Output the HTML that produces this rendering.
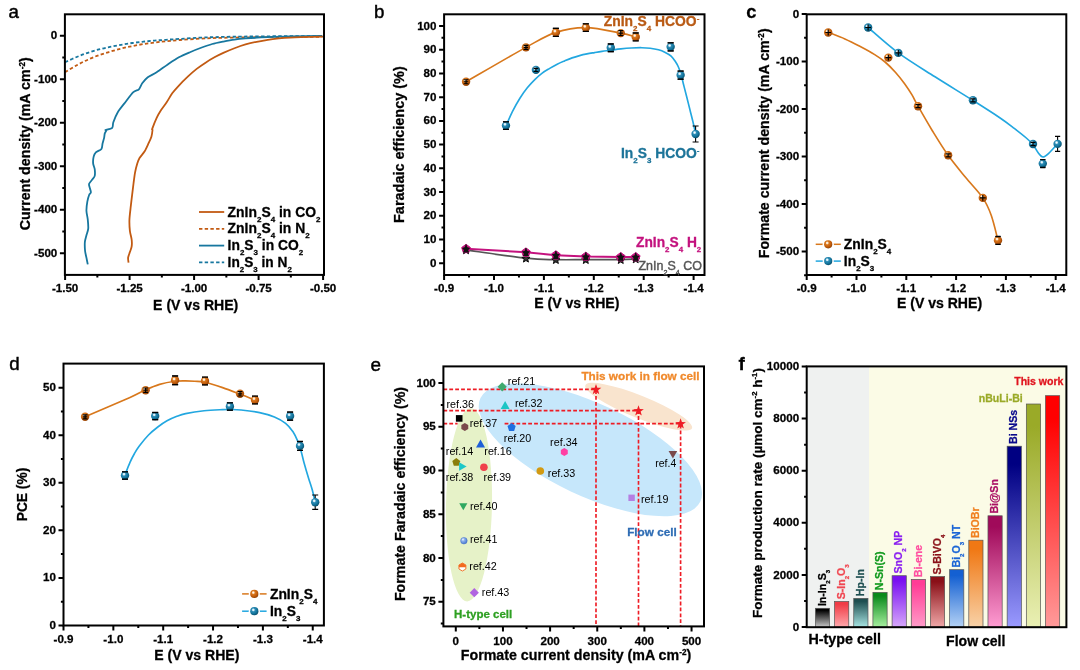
<!DOCTYPE html>
<html><head><meta charset="utf-8"><title>Figure</title>
<style>html,body{margin:0;padding:0;background:#fff}body{width:1080px;height:670px;overflow:hidden}</style>
</head><body>
<svg width="1080" height="670" viewBox="0 0 1080 670" font-family='"Liberation Sans", sans-serif' style="display:block">
<defs>
<radialGradient id="gO" cx="0.38" cy="0.34" r="0.72"><stop offset="0" stop-color="#FFFFFF"/><stop offset="0.14" stop-color="#FBE3C8"/><stop offset="0.3" stop-color="#D9781E"/><stop offset="0.65" stop-color="#C25C0C"/><stop offset="1" stop-color="#8A3E04"/></radialGradient>
<radialGradient id="gB" cx="0.38" cy="0.34" r="0.72"><stop offset="0" stop-color="#FFFFFF"/><stop offset="0.14" stop-color="#CFEAF6"/><stop offset="0.3" stop-color="#2E8DB6"/><stop offset="0.65" stop-color="#12739B"/><stop offset="1" stop-color="#074863"/></radialGradient>
<radialGradient id="gS" cx="0.36" cy="0.32" r="0.75"><stop offset="0" stop-color="#FFFFFF"/><stop offset="0.3" stop-color="#8FB4EE"/><stop offset="1" stop-color="#3F6FCB"/></radialGradient>
</defs>
<text id="t1" transform="translate(8.60 18.00)" font-size="18.70" font-weight="normal" text-anchor="start" fill="#000" stroke="#000" stroke-width="0.45">a</text>
<path d="M65.00 72.30C66.95 71.13 72.90 67.40 76.70 65.30C80.50 63.20 84.10 61.38 87.80 59.70C91.50 58.02 95.20 56.53 98.90 55.20C102.60 53.87 106.30 52.80 110.00 51.70C113.70 50.60 117.40 49.53 121.10 48.60C124.80 47.67 128.50 46.85 132.20 46.10C135.90 45.35 139.60 44.68 143.30 44.10C147.00 43.52 150.68 43.07 154.40 42.60C158.12 42.13 161.33 41.73 165.60 41.30C169.87 40.87 174.10 40.45 180.00 40.00C185.90 39.55 193.78 38.97 201.00 38.60C208.22 38.23 212.17 38.05 223.30 37.80C234.43 37.55 251.18 37.28 267.80 37.10C284.42 36.92 313.80 36.77 323.00 36.70" stroke="#C25A12" stroke-width="1.8" stroke-dasharray="3.4 2.3" fill="none"/>
<path d="M65.00 62.30C66.95 61.42 72.90 58.58 76.70 57.00C80.50 55.42 84.10 54.07 87.80 52.80C91.50 51.53 95.20 50.38 98.90 49.40C102.60 48.42 106.30 47.67 110.00 46.90C113.70 46.13 117.40 45.45 121.10 44.80C124.80 44.15 128.50 43.52 132.20 43.00C135.90 42.48 139.60 42.10 143.30 41.70C147.00 41.30 150.68 40.92 154.40 40.60C158.12 40.28 161.33 40.08 165.60 39.80C169.87 39.52 174.10 39.27 180.00 38.90C185.90 38.53 193.83 37.93 201.00 37.60C208.17 37.27 211.87 37.12 223.00 36.90C234.13 36.68 251.13 36.45 267.80 36.30C284.47 36.15 313.80 36.05 323.00 36.00" stroke="#17779F" stroke-width="1.8" stroke-dasharray="3.4 2.3" fill="none"/>
<path d="M87.78 264.41C87.60 263.51 86.79 259.48 86.43 257.69C86.08 255.90 85.30 253.06 85.09 250.97C84.88 248.88 84.69 244.10 84.87 242.01C85.04 239.92 85.99 237.08 86.43 235.29C86.88 233.49 88.05 230.66 88.23 228.57C88.41 226.48 88.02 222.00 87.78 219.61C87.54 217.22 86.49 213.03 86.43 210.65C86.37 208.26 86.97 203.78 87.33 201.68C87.69 199.59 88.64 196.22 89.12 194.96C89.60 193.71 90.85 193.32 90.91 192.28C90.97 191.23 89.81 188.26 89.57 187.12C89.33 185.99 88.73 184.81 89.12 183.76C89.51 182.72 91.74 180.33 92.48 179.28C93.23 178.24 94.42 177.27 94.72 175.92C95.02 174.58 94.93 170.85 94.72 169.20C94.51 167.56 93.30 165.24 93.15 163.60C93.00 161.96 93.24 158.38 93.60 156.88C93.96 155.39 94.80 153.45 95.84 152.40C96.89 151.36 100.55 150.24 101.44 149.04C102.34 147.85 102.20 144.93 102.56 143.44C102.92 141.95 103.83 139.18 104.13 137.84C104.43 136.50 104.47 134.41 104.80 133.36C105.13 132.31 106.49 130.45 106.59 130.00C106.70 129.55 104.81 130.30 105.56 130.00C106.31 129.70 111.19 128.81 112.22 127.78C113.26 126.74 112.59 124.30 113.33 122.22C114.07 120.15 116.30 114.74 117.78 112.22C119.26 109.70 122.37 106.00 124.44 103.33C126.52 100.67 131.41 94.09 133.33 92.22C135.26 90.36 137.70 90.52 138.89 89.33C140.07 88.15 141.04 84.93 142.22 83.33C143.41 81.73 145.85 78.81 147.78 77.33C149.70 75.85 154.00 73.94 156.67 72.22C159.33 70.50 164.81 66.43 167.78 64.44C170.74 62.46 175.93 58.96 178.89 57.33C181.85 55.70 187.04 53.50 190.00 52.22C192.96 50.95 198.15 48.87 201.11 47.78C204.07 46.68 209.26 44.83 212.22 44.00C215.19 43.17 220.37 42.15 223.33 41.56C226.30 40.96 231.48 39.97 234.44 39.56C237.41 39.14 241.11 38.77 245.56 38.44C250.00 38.12 261.85 37.38 267.78 37.11C273.70 36.84 282.74 36.59 290.00 36.44C297.26 36.30 317.93 36.06 322.22 36.00" stroke="#17779F" stroke-width="1.8" stroke-linejoin="round" fill="none"/>
<path d="M128.55 262.62C128.49 261.96 127.92 259.09 128.10 257.69C128.28 256.28 129.41 253.58 129.89 252.09C130.37 250.59 131.45 248.13 131.68 246.49C131.92 244.84 131.92 241.86 131.68 239.77C131.45 237.68 130.19 233.49 129.89 230.81C129.59 228.12 129.32 222.89 129.44 219.61C129.56 216.32 130.43 209.45 130.79 206.16C131.15 202.88 131.77 197.95 132.13 194.96C132.49 191.98 133.09 186.75 133.48 183.76C133.86 180.78 134.54 175.25 135.04 172.56C135.55 169.87 136.69 165.54 137.28 163.60C137.88 161.66 138.54 159.64 139.53 158.00C140.51 156.36 143.48 153.22 144.68 151.28C145.87 149.34 147.59 145.38 148.49 143.44C149.38 141.50 150.86 138.51 151.40 136.72C151.94 134.93 152.41 131.04 152.52 130.00C152.63 128.96 151.67 130.52 152.22 128.89C152.78 127.26 155.48 120.30 156.67 117.78C157.85 115.26 159.78 112.07 161.11 110.00C162.44 107.93 165.19 104.44 166.67 102.22C168.15 100.00 170.59 95.56 172.22 93.33C173.85 91.11 176.81 87.78 178.89 85.56C180.96 83.33 185.41 78.89 187.78 76.67C190.15 74.44 194.30 70.76 196.67 68.89C199.04 67.02 203.19 64.21 205.56 62.67C207.93 61.13 212.07 58.64 214.44 57.33C216.81 56.03 220.67 54.10 223.33 52.89C226.00 51.67 231.48 49.35 234.44 48.22C237.41 47.10 242.59 45.30 245.56 44.44C248.52 43.59 253.70 42.40 256.67 41.78C259.63 41.16 264.81 40.22 267.78 39.78C270.74 39.33 275.93 38.74 278.89 38.44C281.85 38.15 287.04 37.73 290.00 37.56C292.96 37.38 296.81 37.23 301.11 37.11C305.41 36.99 319.41 36.73 322.22 36.67" stroke="#C25A12" stroke-width="1.8" stroke-linejoin="round" fill="none"/>
<rect x="64.90" y="14.30" width="259.10" height="260.60" fill="none" stroke="#000" stroke-width="2.00"/>
<path d="M65.10 274.90v5.0M129.60 274.90v5.0M194.10 274.90v5.0M258.60 274.90v5.0M323.10 274.90v5.0M97.35 274.90v2.6M161.85 274.90v2.6M226.35 274.90v2.6M290.85 274.90v2.6" stroke="#000" stroke-width="2.00" fill="none"/>
<text id="t2" transform="translate(65.10 291.70)" font-size="11.60" font-weight="bold" text-anchor="middle" fill="#000" stroke="#000" stroke-width="0.28">-1.50</text>
<text id="t3" transform="translate(129.60 291.70)" font-size="11.60" font-weight="bold" text-anchor="middle" fill="#000" stroke="#000" stroke-width="0.28">-1.25</text>
<text id="t4" transform="translate(194.10 291.70)" font-size="11.60" font-weight="bold" text-anchor="middle" fill="#000" stroke="#000" stroke-width="0.28">-1.00</text>
<text id="t5" transform="translate(258.60 291.70)" font-size="11.60" font-weight="bold" text-anchor="middle" fill="#000" stroke="#000" stroke-width="0.28">-0.75</text>
<text id="t6" transform="translate(323.10 291.70)" font-size="11.60" font-weight="bold" text-anchor="middle" fill="#000" stroke="#000" stroke-width="0.28">-0.50</text>
<path d="M64.90 35.80h-5.0M64.90 79.30h-5.0M64.90 122.80h-5.0M64.90 166.30h-5.0M64.90 209.80h-5.0M64.90 253.30h-5.0M64.90 57.55h-2.6M64.90 101.05h-2.6M64.90 144.55h-2.6M64.90 188.05h-2.6M64.90 231.55h-2.6" stroke="#000" stroke-width="2.00" fill="none"/>
<text id="t7" transform="translate(57.30 39.40)" font-size="11.60" font-weight="bold" text-anchor="end" fill="#000" stroke="#000" stroke-width="0.28">0</text>
<text id="t8" transform="translate(57.30 82.90)" font-size="11.60" font-weight="bold" text-anchor="end" fill="#000" stroke="#000" stroke-width="0.28">-100</text>
<text id="t9" transform="translate(57.30 126.40)" font-size="11.60" font-weight="bold" text-anchor="end" fill="#000" stroke="#000" stroke-width="0.28">-200</text>
<text id="t10" transform="translate(57.30 169.90)" font-size="11.60" font-weight="bold" text-anchor="end" fill="#000" stroke="#000" stroke-width="0.28">-300</text>
<text id="t11" transform="translate(57.30 213.40)" font-size="11.60" font-weight="bold" text-anchor="end" fill="#000" stroke="#000" stroke-width="0.28">-400</text>
<text id="t12" transform="translate(57.30 256.90)" font-size="11.60" font-weight="bold" text-anchor="end" fill="#000" stroke="#000" stroke-width="0.28">-500</text>
<text id="t13" transform="translate(195.70 309.70)" font-size="14.07" font-weight="bold" text-anchor="middle" fill="#000" stroke="#000" stroke-width="0.28">E (V vs RHE)</text>
<text id="t14" transform="translate(30.20 143.80) rotate(-90)" font-size="14.25" font-weight="bold" text-anchor="middle" fill="#000" stroke="#000" stroke-width="0.28">Current density (mA cm<tspan font-size="8.19" dy="-5.27">-2</tspan><tspan dy="5.27">)</tspan></text>
<path d="M199 212.00H224.2" stroke="#C25A12" stroke-width="1.8"  fill="none"/>
<text id="t15" transform="translate(227.60 216.60)" font-size="13.92" font-weight="bold" text-anchor="start" fill="#000" stroke="#000" stroke-width="0.28">ZnIn<tspan font-size="8.00" dy="5.01">2</tspan><tspan dy="-5.01">S</tspan><tspan font-size="8.00" dy="5.01">4</tspan><tspan dy="-5.01"> in CO</tspan><tspan font-size="8.00" dy="5.01">2</tspan></text>
<path d="M199 228.80H224.2" stroke="#C25A12" stroke-width="1.8" stroke-dasharray="3.4 2.3" fill="none"/>
<text id="t16" transform="translate(227.60 233.40)" font-size="13.92" font-weight="bold" text-anchor="start" fill="#000" stroke="#000" stroke-width="0.28">ZnIn<tspan font-size="8.00" dy="5.01">2</tspan><tspan dy="-5.01">S</tspan><tspan font-size="8.00" dy="5.01">4</tspan><tspan dy="-5.01"> in N</tspan><tspan font-size="8.00" dy="5.01">2</tspan></text>
<path d="M199 245.60H224.2" stroke="#17779F" stroke-width="1.8"  fill="none"/>
<text id="t17" transform="translate(227.60 250.20)" font-size="13.84" font-weight="bold" text-anchor="start" fill="#000" stroke="#000" stroke-width="0.28">In<tspan font-size="7.96" dy="4.98">2</tspan><tspan dy="-4.98">S</tspan><tspan font-size="7.96" dy="4.98">3</tspan><tspan dy="-4.98"> in CO</tspan><tspan font-size="7.96" dy="4.98">2</tspan></text>
<path d="M199 262.40H224.2" stroke="#17779F" stroke-width="1.8" stroke-dasharray="3.4 2.3" fill="none"/>
<text id="t18" transform="translate(227.60 267.00)" font-size="13.71" font-weight="bold" text-anchor="start" fill="#000" stroke="#000" stroke-width="0.28">In<tspan font-size="7.88" dy="4.93">2</tspan><tspan dy="-4.93">S</tspan><tspan font-size="7.88" dy="4.93">3</tspan><tspan dy="-4.93"> in N</tspan><tspan font-size="7.88" dy="4.93">2</tspan></text>
<text id="t19" transform="translate(374.00 17.60)" font-size="18.70" font-weight="normal" text-anchor="start" fill="#000" stroke="#000" stroke-width="0.45">b</text>
<path d="M466.06 249.92C476.04 251.30 510.97 256.60 525.94 258.22C540.91 259.84 545.90 259.40 555.88 259.64C565.86 259.88 575.00 259.64 585.82 259.64C596.63 259.64 612.43 259.76 620.75 259.64C629.06 259.52 633.22 259.05 635.72 258.93" stroke="#555" stroke-width="1.7" fill="none"/>
<path d="M466.06 246.02L467.17 248.78L470.15 248.99L467.86 250.90L468.58 253.80L466.06 252.22L463.53 253.80L464.25 250.90L461.97 248.99L464.94 248.78Z" fill="#333" stroke="#000" stroke-width="0.9" stroke-linejoin="round"/>
<path d="M525.94 254.32L527.05 257.08L530.03 257.29L527.74 259.21L528.46 262.10L525.94 260.52L523.41 262.10L524.13 259.21L521.85 257.29L524.82 257.08Z" fill="#333" stroke="#000" stroke-width="0.9" stroke-linejoin="round"/>
<path d="M555.88 255.74L556.99 258.50L559.97 258.71L557.68 260.63L558.40 263.52L555.88 261.94L553.35 263.52L554.07 260.63L551.79 258.71L554.76 258.50Z" fill="#333" stroke="#000" stroke-width="0.9" stroke-linejoin="round"/>
<path d="M585.82 255.74L586.93 258.50L589.91 258.71L587.62 260.63L588.34 263.52L585.82 261.94L583.29 263.52L584.01 260.63L581.73 258.71L584.70 258.50Z" fill="#333" stroke="#000" stroke-width="0.9" stroke-linejoin="round"/>
<path d="M620.75 255.74L621.86 258.50L624.84 258.71L622.55 260.63L623.27 263.52L620.75 261.94L618.22 263.52L618.94 260.63L616.66 258.71L619.63 258.50Z" fill="#333" stroke="#000" stroke-width="0.9" stroke-linejoin="round"/>
<path d="M635.72 255.03L636.83 257.79L639.81 258.00L637.52 259.92L638.24 262.81L635.72 261.23L633.19 262.81L633.91 259.92L631.63 258.00L634.60 257.79Z" fill="#333" stroke="#000" stroke-width="0.9" stroke-linejoin="round"/>
<path d="M466.06 248.73L525.94 252.29L555.88 255.14L585.82 256.56L620.75 256.91L635.72 256.91" stroke="#C4127E" stroke-width="2.0" fill="none"/>
<path d="M466.06 244.33L470.43 247.51L468.76 252.65L463.35 252.65L461.68 247.51Z" fill="#C4127E" stroke="#C4127E" stroke-width="1.0" stroke-linejoin="round"/>
<path d="M466.06 244.93L467.41 247.37L470.15 247.90L468.24 249.94L468.58 252.71L466.06 251.53L463.53 252.71L463.87 249.94L461.97 247.90L464.70 247.37Z" fill="#111"/>
<path d="M466.06 244.53v7.6M463.46 251.93h5.2" stroke="#111" stroke-width="1.2" fill="none"/>
<path d="M525.94 247.89L530.31 251.07L528.64 256.21L523.23 256.21L521.56 251.07Z" fill="#C4127E" stroke="#C4127E" stroke-width="1.0" stroke-linejoin="round"/>
<path d="M525.94 248.49L527.29 250.93L530.03 251.46L528.12 253.50L528.46 256.27L525.94 255.09L523.41 256.27L523.75 253.50L521.85 251.46L524.58 250.93Z" fill="#111"/>
<path d="M525.94 248.09v7.6M523.34 255.49h5.2" stroke="#111" stroke-width="1.2" fill="none"/>
<path d="M555.88 250.74L560.25 253.91L558.58 259.06L553.17 259.06L551.50 253.91Z" fill="#C4127E" stroke="#C4127E" stroke-width="1.0" stroke-linejoin="round"/>
<path d="M555.88 251.34L557.23 253.77L559.97 254.31L558.06 256.35L558.40 259.11L555.88 257.94L553.35 259.11L553.69 256.35L551.79 254.31L554.52 253.77Z" fill="#111"/>
<path d="M555.88 250.94v7.6M553.28 258.34h5.2" stroke="#111" stroke-width="1.2" fill="none"/>
<path d="M585.82 252.16L590.19 255.34L588.52 260.48L583.11 260.48L581.44 255.34Z" fill="#C4127E" stroke="#C4127E" stroke-width="1.0" stroke-linejoin="round"/>
<path d="M585.82 252.76L587.17 255.20L589.91 255.73L588.00 257.77L588.34 260.54L585.82 259.36L583.29 260.54L583.63 257.77L581.73 255.73L584.46 255.20Z" fill="#111"/>
<path d="M585.82 252.36v7.6M583.22 259.76h5.2" stroke="#111" stroke-width="1.2" fill="none"/>
<path d="M620.75 252.51L625.12 255.69L623.45 260.84L618.04 260.84L616.37 255.69Z" fill="#C4127E" stroke="#C4127E" stroke-width="1.0" stroke-linejoin="round"/>
<path d="M620.75 253.11L622.10 255.55L624.84 256.09L622.93 258.12L623.27 260.89L620.75 259.71L618.22 260.89L618.56 258.12L616.66 256.09L619.39 255.55Z" fill="#111"/>
<path d="M620.75 252.71v7.6M618.15 260.11h5.2" stroke="#111" stroke-width="1.2" fill="none"/>
<path d="M635.72 252.51L640.09 255.69L638.42 260.84L633.01 260.84L631.34 255.69Z" fill="#C4127E" stroke="#C4127E" stroke-width="1.0" stroke-linejoin="round"/>
<path d="M635.72 253.11L637.07 255.55L639.81 256.09L637.90 258.12L638.24 260.89L635.72 259.71L633.19 260.89L633.53 258.12L631.63 256.09L634.36 255.55Z" fill="#111"/>
<path d="M635.72 252.71v7.6M633.12 260.11h5.2" stroke="#111" stroke-width="1.2" fill="none"/>
<path d="M506.20 125.40C507.23 123.10 510.12 116.13 512.40 111.60C514.68 107.07 517.42 102.17 519.90 98.20C522.38 94.23 524.82 90.90 527.30 87.80C529.78 84.70 532.32 82.05 534.80 79.60C537.28 77.15 539.72 74.97 542.20 73.10C544.68 71.23 547.20 69.88 549.70 68.40C552.20 66.92 554.72 65.45 557.20 64.20C559.68 62.95 562.12 61.95 564.60 60.90C567.08 59.85 569.60 58.78 572.10 57.90C574.60 57.02 577.12 56.27 579.60 55.60C582.08 54.93 584.52 54.40 587.00 53.90C589.48 53.40 592.00 53.02 594.50 52.60C597.00 52.18 599.35 51.78 602.00 51.40C604.65 51.02 607.25 50.72 610.40 50.30C613.55 49.88 617.42 49.28 620.90 48.90C624.38 48.52 627.82 48.20 631.30 48.00C634.78 47.80 638.65 47.67 641.80 47.70C644.95 47.73 647.42 47.85 650.20 48.20C652.98 48.55 656.07 49.13 658.50 49.80C660.93 50.47 662.70 51.15 664.80 52.20C666.90 53.25 669.37 54.58 671.10 56.10C672.83 57.62 673.98 59.48 675.20 61.30C676.42 63.12 677.43 64.83 678.40 67.00C679.37 69.17 680.13 71.33 681.00 74.30C681.87 77.27 682.68 81.18 683.60 84.80C684.52 88.42 685.43 91.80 686.50 96.00C687.57 100.20 688.92 105.67 690.00 110.00C691.08 114.33 692.07 118.07 693.00 122.00C693.93 125.93 695.17 131.67 695.60 133.60" stroke="#22A7E0" stroke-width="1.65" fill="none"/>
<path d="M466.06 81.74C476.04 76.01 510.97 55.57 525.94 47.35C540.91 39.13 545.90 35.69 555.88 32.40C565.86 29.12 575.00 27.54 585.82 27.66C596.63 27.78 612.43 31.57 620.75 33.12C629.06 34.66 633.22 36.28 635.72 36.91" stroke="#D8781C" stroke-width="1.65" fill="none"/>
<path d="M505.98 121.82V129.42M502.98 121.82h6.00M502.98 129.42h6.00" stroke="#000" stroke-width="1.1" fill="none"/>
<circle cx="505.98" cy="125.62" r="4.20" fill="url(#gB)"/>
<path d="M502.98 121.82h6.00M502.98 129.42h6.00" stroke="#000" stroke-width="1.3" fill="none"/>
<circle cx="535.92" cy="69.88" r="4.20" fill="url(#gB)"/>
<path d="M535.92 68.28V71.48M533.52 68.28h4.80M533.52 71.48h4.80" stroke="#000" stroke-width="1.2" fill="none"/>
<path d="M610.77 44.02V51.62M607.77 44.02h6.00M607.77 51.62h6.00" stroke="#000" stroke-width="1.1" fill="none"/>
<circle cx="610.77" cy="47.82" r="4.20" fill="url(#gB)"/>
<path d="M607.77 44.02h6.00M607.77 51.62h6.00" stroke="#000" stroke-width="1.3" fill="none"/>
<path d="M670.65 42.87V50.87M667.65 42.87h6.00M667.65 50.87h6.00" stroke="#000" stroke-width="1.1" fill="none"/>
<circle cx="670.65" cy="46.87" r="4.20" fill="url(#gB)"/>
<path d="M667.65 42.87h6.00M667.65 50.87h6.00" stroke="#000" stroke-width="1.3" fill="none"/>
<path d="M680.63 71.10V79.10M677.63 71.10h6.00M677.63 79.10h6.00" stroke="#000" stroke-width="1.1" fill="none"/>
<circle cx="680.63" cy="75.10" r="4.20" fill="url(#gB)"/>
<path d="M677.63 71.10h6.00M677.63 79.10h6.00" stroke="#000" stroke-width="1.3" fill="none"/>
<path d="M695.60 125.93V141.93M692.60 125.93h6.00M692.60 141.93h6.00" stroke="#000" stroke-width="1.1" fill="none"/>
<circle cx="695.60" cy="133.93" r="4.20" fill="url(#gB)"/>
<circle cx="466.06" cy="81.74" r="4.20" fill="url(#gO)"/>
<path d="M466.06 79.74V83.74M463.66 79.74h4.80M463.66 83.74h4.80M463.86 81.74H468.26" stroke="#000" stroke-width="1.2" fill="none"/>
<circle cx="525.94" cy="47.35" r="4.20" fill="url(#gO)"/>
<path d="M525.94 45.35V49.35M523.54 45.35h4.80M523.54 49.35h4.80M523.74 47.35H528.14" stroke="#000" stroke-width="1.2" fill="none"/>
<path d="M555.88 28.40V36.40M552.88 28.40h6.00M552.88 36.40h6.00" stroke="#000" stroke-width="1.1" fill="none"/>
<circle cx="555.88" cy="32.40" r="4.20" fill="url(#gO)"/>
<path d="M552.88 28.40h6.00M552.88 36.40h6.00" stroke="#000" stroke-width="1.3" fill="none"/>
<path d="M585.82 23.86V31.46M582.82 23.86h6.00M582.82 31.46h6.00" stroke="#000" stroke-width="1.1" fill="none"/>
<circle cx="585.82" cy="27.66" r="4.20" fill="url(#gO)"/>
<path d="M582.82 23.86h6.00M582.82 31.46h6.00" stroke="#000" stroke-width="1.3" fill="none"/>
<circle cx="620.75" cy="33.12" r="4.20" fill="url(#gO)"/>
<path d="M620.75 30.72V35.52M618.35 30.72h4.80M618.35 35.52h4.80M618.55 33.12H622.95" stroke="#000" stroke-width="1.2" fill="none"/>
<path d="M635.72 33.01V40.81M632.72 33.01h6.00M632.72 40.81h6.00" stroke="#000" stroke-width="1.1" fill="none"/>
<circle cx="635.72" cy="36.91" r="4.20" fill="url(#gO)"/>
<path d="M632.72 33.01h6.00M632.72 40.81h6.00" stroke="#000" stroke-width="1.3" fill="none"/>
<rect x="444.10" y="14.30" width="260.40" height="260.70" fill="none" stroke="#000" stroke-width="2.00"/>
<path d="M444.10 275.00v5.0M494.00 275.00v5.0M543.90 275.00v5.0M593.80 275.00v5.0M643.70 275.00v5.0M693.60 275.00v5.0M469.05 275.00v2.6M518.95 275.00v2.6M568.85 275.00v2.6M618.75 275.00v2.6M668.65 275.00v2.6" stroke="#000" stroke-width="2.00" fill="none"/>
<text id="t20" transform="translate(444.10 291.70)" font-size="11.60" font-weight="bold" text-anchor="middle" fill="#000" stroke="#000" stroke-width="0.28">-0.9</text>
<text id="t21" transform="translate(494.00 291.70)" font-size="11.60" font-weight="bold" text-anchor="middle" fill="#000" stroke="#000" stroke-width="0.28">-1.0</text>
<text id="t22" transform="translate(543.90 291.70)" font-size="11.60" font-weight="bold" text-anchor="middle" fill="#000" stroke="#000" stroke-width="0.28">-1.1</text>
<text id="t23" transform="translate(593.80 291.70)" font-size="11.60" font-weight="bold" text-anchor="middle" fill="#000" stroke="#000" stroke-width="0.28">-1.2</text>
<text id="t24" transform="translate(643.70 291.70)" font-size="11.60" font-weight="bold" text-anchor="middle" fill="#000" stroke="#000" stroke-width="0.28">-1.3</text>
<text id="t25" transform="translate(693.60 291.70)" font-size="11.60" font-weight="bold" text-anchor="middle" fill="#000" stroke="#000" stroke-width="0.28">-1.4</text>
<path d="M444.10 263.20h-5.0M444.10 239.48h-5.0M444.10 215.76h-5.0M444.10 192.04h-5.0M444.10 168.32h-5.0M444.10 144.60h-5.0M444.10 120.88h-5.0M444.10 97.16h-5.0M444.10 73.44h-5.0M444.10 49.72h-5.0M444.10 26.00h-5.0M444.10 251.34h-2.6M444.10 227.62h-2.6M444.10 203.90h-2.6M444.10 180.18h-2.6M444.10 156.46h-2.6M444.10 132.74h-2.6M444.10 109.02h-2.6M444.10 85.30h-2.6M444.10 61.58h-2.6M444.10 37.86h-2.6" stroke="#000" stroke-width="2.00" fill="none"/>
<text id="t26" transform="translate(436.50 266.80)" font-size="11.60" font-weight="bold" text-anchor="end" fill="#000" stroke="#000" stroke-width="0.28">0</text>
<text id="t27" transform="translate(436.50 243.08)" font-size="11.60" font-weight="bold" text-anchor="end" fill="#000" stroke="#000" stroke-width="0.28">10</text>
<text id="t28" transform="translate(436.50 219.36)" font-size="11.60" font-weight="bold" text-anchor="end" fill="#000" stroke="#000" stroke-width="0.28">20</text>
<text id="t29" transform="translate(436.50 195.64)" font-size="11.60" font-weight="bold" text-anchor="end" fill="#000" stroke="#000" stroke-width="0.28">30</text>
<text id="t30" transform="translate(436.50 171.92)" font-size="11.60" font-weight="bold" text-anchor="end" fill="#000" stroke="#000" stroke-width="0.28">40</text>
<text id="t31" transform="translate(436.50 148.20)" font-size="11.60" font-weight="bold" text-anchor="end" fill="#000" stroke="#000" stroke-width="0.28">50</text>
<text id="t32" transform="translate(436.50 124.48)" font-size="11.60" font-weight="bold" text-anchor="end" fill="#000" stroke="#000" stroke-width="0.28">60</text>
<text id="t33" transform="translate(436.50 100.76)" font-size="11.60" font-weight="bold" text-anchor="end" fill="#000" stroke="#000" stroke-width="0.28">70</text>
<text id="t34" transform="translate(436.50 77.04)" font-size="11.60" font-weight="bold" text-anchor="end" fill="#000" stroke="#000" stroke-width="0.28">80</text>
<text id="t35" transform="translate(436.50 53.32)" font-size="11.60" font-weight="bold" text-anchor="end" fill="#000" stroke="#000" stroke-width="0.28">90</text>
<text id="t36" transform="translate(436.50 29.60)" font-size="11.60" font-weight="bold" text-anchor="end" fill="#000" stroke="#000" stroke-width="0.28">100</text>
<text id="t37" transform="translate(576.80 308.00)" font-size="14.07" font-weight="bold" text-anchor="middle" fill="#000" stroke="#000" stroke-width="0.28">E (V vs RHE)</text>
<text id="t38" transform="translate(404.40 144.60) rotate(-90)" font-size="14.47" font-weight="bold" text-anchor="middle" fill="#000" stroke="#000" stroke-width="0.28">Faradaic efficiency (%)</text>
<text id="t39" transform="translate(603.70 26.00)" font-size="13.89" font-weight="bold" text-anchor="start" fill="#B95A14" stroke="#B95A14" stroke-width="0.28">ZnIn<tspan font-size="7.99" dy="5.00">2</tspan><tspan dy="-5.00">S</tspan><tspan font-size="7.99" dy="5.00">4</tspan><tspan dy="-5.00"> HCOO</tspan><tspan font-size="7.99" dy="-5.14">-</tspan></text>
<text id="t40" transform="translate(621.00 158.30)" font-size="13.85" font-weight="bold" text-anchor="start" fill="#1C7499" stroke="#1C7499" stroke-width="0.28">In<tspan font-size="7.96" dy="4.99">2</tspan><tspan dy="-4.99">S</tspan><tspan font-size="7.96" dy="4.99">3</tspan><tspan dy="-4.99"> HCOO</tspan><tspan font-size="7.96" dy="-5.12">-</tspan></text>
<text id="t41" transform="translate(636.00 247.20)" font-size="13.78" font-weight="bold" text-anchor="start" fill="#C3127E" stroke="#C3127E" stroke-width="0.28">ZnIn<tspan font-size="7.92" dy="4.96">2</tspan><tspan dy="-4.96">S</tspan><tspan font-size="7.92" dy="4.96">4</tspan><tspan dy="-4.96"> H</tspan><tspan font-size="7.92" dy="4.96">2</tspan></text>
<text id="t42" transform="translate(638.50 270.00)" font-size="12.48" font-weight="normal" text-anchor="start" fill="#555555" stroke="#555555" stroke-width="0.40">ZnIn<tspan font-size="7.18" dy="4.49">2</tspan><tspan dy="-4.49">S</tspan><tspan font-size="7.18" dy="4.49">4</tspan><tspan dy="-4.49"> CO</tspan></text>
<text id="t43" transform="translate(746.30 17.70)" font-size="18.30" font-weight="bold" text-anchor="start" fill="#000" stroke="#000" stroke-width="0.28">c</text>
<path d="M828.30 32.30C831.07 33.40 839.65 36.57 844.90 38.90C850.15 41.23 854.83 43.68 859.80 46.30C864.77 48.92 870.48 51.98 874.70 54.60C878.92 57.22 881.62 59.02 885.10 62.00C888.58 64.98 892.35 68.88 895.60 72.50C898.85 76.12 901.87 79.97 904.60 83.70C907.33 87.43 909.77 91.17 912.00 94.90C914.23 98.63 914.58 100.08 918.00 106.10C921.42 112.12 927.48 122.80 932.50 131.00C937.52 139.20 942.60 147.58 948.10 155.30C953.60 163.02 959.72 170.20 965.50 177.30C971.28 184.40 978.50 191.53 982.80 197.90C987.10 204.27 988.77 208.42 991.30 215.50C993.83 222.58 996.88 236.25 998.00 240.40" stroke="#D8781C" stroke-width="1.65" fill="none"/>
<path d="M868.10 27.50C873.13 31.73 887.15 44.68 898.30 52.90C909.45 61.12 922.60 68.90 935.00 76.80C947.40 84.70 961.97 93.52 972.70 100.30C983.43 107.08 992.47 112.82 999.40 117.50C1006.33 122.18 1009.82 124.98 1014.30 128.40C1018.78 131.82 1023.22 135.33 1026.30 138.00C1029.38 140.67 1030.82 141.93 1032.80 144.40C1034.78 146.87 1036.52 150.70 1038.20 152.80C1039.88 154.90 1041.15 156.92 1042.90 157.00C1044.65 157.08 1046.25 155.50 1048.70 153.30C1051.15 151.10 1056.12 145.38 1057.60 143.80" stroke="#22A7E0" stroke-width="1.65" fill="none"/>
<circle cx="828.20" cy="32.50" r="4.20" fill="url(#gO)"/>
<path d="M828.20 29.60V35.40M828.20 29.60h0.00M828.20 35.40h0.00M825.30 32.50H831.10" stroke="#000" stroke-width="1.2" fill="none"/>
<circle cx="888.30" cy="57.60" r="4.20" fill="url(#gO)"/>
<path d="M888.30 54.70V60.50M888.30 54.70h0.00M888.30 60.50h0.00M885.40 57.60H891.20" stroke="#000" stroke-width="1.2" fill="none"/>
<circle cx="918.00" cy="106.20" r="4.20" fill="url(#gO)"/>
<path d="M918.00 104.70V107.70M915.40 104.70h5.20M915.40 107.70h5.20" stroke="#000" stroke-width="1.2" fill="none"/>
<circle cx="948.10" cy="155.30" r="4.20" fill="url(#gO)"/>
<path d="M948.10 153.80V156.80M945.50 153.80h5.20M945.50 156.80h5.20" stroke="#000" stroke-width="1.2" fill="none"/>
<circle cx="982.80" cy="197.90" r="4.20" fill="url(#gO)"/>
<path d="M982.80 195.00V200.80M982.80 195.00h0.00M982.80 200.80h0.00M979.90 197.90H985.70" stroke="#000" stroke-width="1.2" fill="none"/>
<path d="M998.00 236.50V244.30M995.40 236.50h5.20M995.40 244.30h5.20" stroke="#000" stroke-width="1.1" fill="none"/>
<circle cx="998.00" cy="240.40" r="4.20" fill="url(#gO)"/>
<path d="M995.40 236.50h5.20M995.40 244.30h5.20" stroke="#000" stroke-width="1.3" fill="none"/>
<circle cx="868.10" cy="27.50" r="4.20" fill="url(#gB)"/>
<path d="M868.10 24.60V30.40M868.10 24.60h0.00M868.10 30.40h0.00M865.20 27.50H871.00" stroke="#000" stroke-width="1.2" fill="none"/>
<circle cx="898.30" cy="52.90" r="4.20" fill="url(#gB)"/>
<path d="M898.30 50.00V55.80M898.30 50.00h0.00M898.30 55.80h0.00M895.40 52.90H901.20" stroke="#000" stroke-width="1.2" fill="none"/>
<circle cx="972.90" cy="100.30" r="4.20" fill="url(#gB)"/>
<path d="M972.90 98.80V101.80M970.30 98.80h5.20M970.30 101.80h5.20" stroke="#000" stroke-width="1.2" fill="none"/>
<circle cx="1033.00" cy="144.00" r="4.20" fill="url(#gB)"/>
<path d="M1033.00 142.40V145.60M1030.40 142.40h5.20M1030.40 145.60h5.20" stroke="#000" stroke-width="1.2" fill="none"/>
<path d="M1042.80 159.70V167.50M1040.20 159.70h5.20M1040.20 167.50h5.20" stroke="#000" stroke-width="1.1" fill="none"/>
<circle cx="1042.80" cy="163.60" r="4.20" fill="url(#gB)"/>
<path d="M1040.20 159.70h5.20M1040.20 167.50h5.20" stroke="#000" stroke-width="1.3" fill="none"/>
<path d="M1057.60 136.40V151.40M1055.00 136.40h5.20M1055.00 151.40h5.20" stroke="#000" stroke-width="1.1" fill="none"/>
<circle cx="1057.60" cy="143.90" r="4.20" fill="url(#gB)"/>
<rect x="806.70" y="14.30" width="259.60" height="260.70" fill="none" stroke="#000" stroke-width="2.00"/>
<path d="M806.70 275.00v5.0M856.50 275.00v5.0M906.30 275.00v5.0M956.10 275.00v5.0M1005.90 275.00v5.0M1055.70 275.00v5.0M831.60 275.00v2.6M881.40 275.00v2.6M931.20 275.00v2.6M981.00 275.00v2.6M1030.80 275.00v2.6" stroke="#000" stroke-width="2.00" fill="none"/>
<text id="t44" transform="translate(806.70 291.70)" font-size="11.60" font-weight="bold" text-anchor="middle" fill="#000" stroke="#000" stroke-width="0.28">-0.9</text>
<text id="t45" transform="translate(856.50 291.70)" font-size="11.60" font-weight="bold" text-anchor="middle" fill="#000" stroke="#000" stroke-width="0.28">-1.0</text>
<text id="t46" transform="translate(906.30 291.70)" font-size="11.60" font-weight="bold" text-anchor="middle" fill="#000" stroke="#000" stroke-width="0.28">-1.1</text>
<text id="t47" transform="translate(956.10 291.70)" font-size="11.60" font-weight="bold" text-anchor="middle" fill="#000" stroke="#000" stroke-width="0.28">-1.2</text>
<text id="t48" transform="translate(1005.90 291.70)" font-size="11.60" font-weight="bold" text-anchor="middle" fill="#000" stroke="#000" stroke-width="0.28">-1.3</text>
<text id="t49" transform="translate(1055.70 291.70)" font-size="11.60" font-weight="bold" text-anchor="middle" fill="#000" stroke="#000" stroke-width="0.28">-1.4</text>
<path d="M806.70 14.10h-5.0M806.70 61.60h-5.0M806.70 109.10h-5.0M806.70 156.60h-5.0M806.70 204.10h-5.0M806.70 251.60h-5.0M806.70 37.85h-2.6M806.70 85.35h-2.6M806.70 132.85h-2.6M806.70 180.35h-2.6M806.70 227.85h-2.6M806.70 275.35h-2.6" stroke="#000" stroke-width="2.00" fill="none"/>
<text id="t50" transform="translate(799.10 17.70)" font-size="11.60" font-weight="bold" text-anchor="end" fill="#000" stroke="#000" stroke-width="0.28">0</text>
<text id="t51" transform="translate(799.10 65.20)" font-size="11.60" font-weight="bold" text-anchor="end" fill="#000" stroke="#000" stroke-width="0.28">-100</text>
<text id="t52" transform="translate(799.10 112.70)" font-size="11.60" font-weight="bold" text-anchor="end" fill="#000" stroke="#000" stroke-width="0.28">-200</text>
<text id="t53" transform="translate(799.10 160.20)" font-size="11.60" font-weight="bold" text-anchor="end" fill="#000" stroke="#000" stroke-width="0.28">-300</text>
<text id="t54" transform="translate(799.10 207.70)" font-size="11.60" font-weight="bold" text-anchor="end" fill="#000" stroke="#000" stroke-width="0.28">-400</text>
<text id="t55" transform="translate(799.10 255.20)" font-size="11.60" font-weight="bold" text-anchor="end" fill="#000" stroke="#000" stroke-width="0.28">-500</text>
<text id="t56" transform="translate(939.50 308.00)" font-size="14.07" font-weight="bold" text-anchor="middle" fill="#000" stroke="#000" stroke-width="0.28">E (V vs RHE)</text>
<text id="t57" transform="translate(768.80 143.30) rotate(-90)" font-size="14.20" font-weight="bold" text-anchor="middle" fill="#000" stroke="#000" stroke-width="0.28">Formate current density (mA cm<tspan font-size="8.16" dy="-5.25">-2</tspan><tspan dy="5.25">)</tspan></text>
<path d="M815.7 244.30H840.8" stroke="#D8781C" stroke-width="1.5" fill="none"/>
<circle cx="828.2" cy="244.30" r="5.6" fill="#fff"/>
<circle cx="828.20" cy="244.30" r="4.10" fill="url(#gO)"/>
<text id="t58" transform="translate(843.80 248.70)" font-size="13.90" font-weight="bold" text-anchor="start" fill="#000" stroke="#000" stroke-width="0.28">ZnIn<tspan font-size="7.99" dy="5.00">2</tspan><tspan dy="-5.00">S</tspan><tspan font-size="7.99" dy="5.00">4</tspan></text>
<path d="M815.7 261.10H840.8" stroke="#22A7E0" stroke-width="1.5" fill="none"/>
<circle cx="828.2" cy="261.10" r="5.6" fill="#fff"/>
<circle cx="828.20" cy="261.10" r="4.10" fill="url(#gB)"/>
<text id="t59" transform="translate(843.80 265.50)" font-size="13.89" font-weight="bold" text-anchor="start" fill="#000" stroke="#000" stroke-width="0.28">In<tspan font-size="7.98" dy="5.00">2</tspan><tspan dy="-5.00">S</tspan><tspan font-size="7.98" dy="5.00">3</tspan></text>
<text id="t60" transform="translate(9.20 370.10)" font-size="18.70" font-weight="normal" text-anchor="start" fill="#000" stroke="#000" stroke-width="0.45">d</text>
<path d="M124.80 475.30C125.67 473.13 128.38 465.93 130.00 462.30C131.62 458.67 132.95 456.22 134.50 453.50C136.05 450.78 136.97 449.08 139.30 446.00C141.63 442.92 145.42 438.17 148.50 435.00C151.58 431.83 154.72 429.37 157.80 427.00C160.88 424.63 163.92 422.53 167.00 420.80C170.08 419.07 173.20 417.80 176.30 416.60C179.40 415.40 180.97 414.58 185.60 413.60C190.23 412.62 197.93 411.37 204.10 410.70C210.27 410.03 218.28 409.80 222.60 409.60C226.92 409.40 226.92 409.43 230.00 409.50C233.08 409.57 236.17 409.48 241.10 410.00C246.03 410.52 254.05 411.45 259.60 412.60C265.15 413.75 270.07 415.12 274.40 416.90C278.73 418.68 282.50 420.83 285.60 423.30C288.70 425.77 291.00 428.77 293.00 431.70C295.00 434.63 296.22 437.52 297.60 440.90C298.98 444.28 300.22 448.32 301.30 452.00C302.38 455.68 302.90 458.67 304.10 463.00C305.30 467.33 307.13 473.50 308.50 478.00C309.87 482.50 311.18 485.97 312.30 490.00C313.42 494.03 314.72 500.17 315.20 502.20" stroke="#22A7E0" stroke-width="1.65" fill="none"/>
<path d="M85.10 416.80C92.58 413.57 120.05 401.83 130.00 397.40C139.95 392.97 139.87 392.37 144.80 390.20C149.73 388.03 154.57 385.88 159.60 384.40C164.63 382.92 170.67 381.88 175.00 381.30C179.33 380.72 182.30 380.90 185.60 380.90C188.90 380.90 191.63 381.08 194.80 381.30C197.97 381.52 199.97 381.15 204.60 382.20C209.23 383.25 216.73 385.62 222.60 387.60C228.47 389.58 234.40 392.00 239.80 394.10C245.20 396.20 252.47 399.18 255.00 400.20" stroke="#D8781C" stroke-width="1.65" fill="none"/>
<path d="M125.00 471.90V479.10M122.00 471.90h6.00M122.00 479.10h6.00" stroke="#000" stroke-width="1.1" fill="none"/>
<circle cx="125.00" cy="475.50" r="4.20" fill="url(#gB)"/>
<path d="M122.00 471.90h6.00M122.00 479.10h6.00" stroke="#000" stroke-width="1.3" fill="none"/>
<path d="M155.20 412.50V419.70M152.20 412.50h6.00M152.20 419.70h6.00" stroke="#000" stroke-width="1.1" fill="none"/>
<circle cx="155.20" cy="416.10" r="4.20" fill="url(#gB)"/>
<path d="M152.20 412.50h6.00M152.20 419.70h6.00" stroke="#000" stroke-width="1.3" fill="none"/>
<path d="M229.90 402.90V410.10M226.90 402.90h6.00M226.90 410.10h6.00" stroke="#000" stroke-width="1.1" fill="none"/>
<circle cx="229.90" cy="406.50" r="4.20" fill="url(#gB)"/>
<path d="M226.90 402.90h6.00M226.90 410.10h6.00" stroke="#000" stroke-width="1.3" fill="none"/>
<path d="M290.10 412.10V420.10M287.10 412.10h6.00M287.10 420.10h6.00" stroke="#000" stroke-width="1.1" fill="none"/>
<circle cx="290.10" cy="416.10" r="4.20" fill="url(#gB)"/>
<path d="M287.10 412.10h6.00M287.10 420.10h6.00" stroke="#000" stroke-width="1.3" fill="none"/>
<path d="M300.00 441.50V450.30M297.00 441.50h6.00M297.00 450.30h6.00" stroke="#000" stroke-width="1.1" fill="none"/>
<circle cx="300.00" cy="445.90" r="4.20" fill="url(#gB)"/>
<path d="M297.00 441.50h6.00M297.00 450.30h6.00" stroke="#000" stroke-width="1.3" fill="none"/>
<path d="M315.20 495.00V509.40M312.20 495.00h6.00M312.20 509.40h6.00" stroke="#000" stroke-width="1.1" fill="none"/>
<circle cx="315.20" cy="502.20" r="4.20" fill="url(#gB)"/>
<circle cx="85.10" cy="416.80" r="4.20" fill="url(#gO)"/>
<path d="M85.10 414.80V418.80M82.70 414.80h4.80M82.70 418.80h4.80M82.90 416.80H87.30" stroke="#000" stroke-width="1.2" fill="none"/>
<circle cx="145.60" cy="390.20" r="4.20" fill="url(#gO)"/>
<path d="M145.60 388.00V392.40M143.20 388.00h4.80M143.20 392.40h4.80M143.40 390.20H147.80" stroke="#000" stroke-width="1.2" fill="none"/>
<path d="M175.10 376.00V384.60M172.10 376.00h6.00M172.10 384.60h6.00" stroke="#000" stroke-width="1.1" fill="none"/>
<circle cx="175.10" cy="380.30" r="4.20" fill="url(#gO)"/>
<path d="M172.10 376.00h6.00M172.10 384.60h6.00" stroke="#000" stroke-width="1.3" fill="none"/>
<path d="M205.00 377.20V384.80M202.00 377.20h6.00M202.00 384.80h6.00" stroke="#000" stroke-width="1.1" fill="none"/>
<circle cx="205.00" cy="381.00" r="4.20" fill="url(#gO)"/>
<path d="M202.00 377.20h6.00M202.00 384.80h6.00" stroke="#000" stroke-width="1.3" fill="none"/>
<circle cx="240.00" cy="393.80" r="4.20" fill="url(#gO)"/>
<path d="M240.00 391.60V396.00M237.60 391.60h4.80M237.60 396.00h4.80M237.80 393.80H242.20" stroke="#000" stroke-width="1.2" fill="none"/>
<path d="M255.00 396.20V403.80M252.00 396.20h6.00M252.00 403.80h6.00" stroke="#000" stroke-width="1.1" fill="none"/>
<circle cx="255.00" cy="400.00" r="4.20" fill="url(#gO)"/>
<path d="M252.00 396.20h6.00M252.00 403.80h6.00" stroke="#000" stroke-width="1.3" fill="none"/>
<rect x="63.50" y="363.60" width="260.40" height="261.90" fill="none" stroke="#000" stroke-width="2.00"/>
<path d="M63.50 625.50v5.0M113.35 625.50v5.0M163.20 625.50v5.0M213.05 625.50v5.0M262.90 625.50v5.0M312.75 625.50v5.0M88.42 625.50v2.6M138.28 625.50v2.6M188.12 625.50v2.6M237.97 625.50v2.6M287.83 625.50v2.6" stroke="#000" stroke-width="2.00" fill="none"/>
<text id="t61" transform="translate(63.50 642.60)" font-size="11.60" font-weight="bold" text-anchor="middle" fill="#000" stroke="#000" stroke-width="0.28">-0.9</text>
<text id="t62" transform="translate(113.35 642.60)" font-size="11.60" font-weight="bold" text-anchor="middle" fill="#000" stroke="#000" stroke-width="0.28">-1.0</text>
<text id="t63" transform="translate(163.20 642.60)" font-size="11.60" font-weight="bold" text-anchor="middle" fill="#000" stroke="#000" stroke-width="0.28">-1.1</text>
<text id="t64" transform="translate(213.05 642.60)" font-size="11.60" font-weight="bold" text-anchor="middle" fill="#000" stroke="#000" stroke-width="0.28">-1.2</text>
<text id="t65" transform="translate(262.90 642.60)" font-size="11.60" font-weight="bold" text-anchor="middle" fill="#000" stroke="#000" stroke-width="0.28">-1.3</text>
<text id="t66" transform="translate(312.75 642.60)" font-size="11.60" font-weight="bold" text-anchor="middle" fill="#000" stroke="#000" stroke-width="0.28">-1.4</text>
<path d="M63.50 625.40h-5.0M63.50 577.88h-5.0M63.50 530.36h-5.0M63.50 482.84h-5.0M63.50 435.32h-5.0M63.50 387.80h-5.0M63.50 601.64h-2.6M63.50 554.12h-2.6M63.50 506.60h-2.6M63.50 459.08h-2.6M63.50 411.56h-2.6" stroke="#000" stroke-width="2.00" fill="none"/>
<text id="t67" transform="translate(55.90 629.00)" font-size="11.60" font-weight="bold" text-anchor="end" fill="#000" stroke="#000" stroke-width="0.28">0</text>
<text id="t68" transform="translate(55.90 581.48)" font-size="11.60" font-weight="bold" text-anchor="end" fill="#000" stroke="#000" stroke-width="0.28">10</text>
<text id="t69" transform="translate(55.90 533.96)" font-size="11.60" font-weight="bold" text-anchor="end" fill="#000" stroke="#000" stroke-width="0.28">20</text>
<text id="t70" transform="translate(55.90 486.44)" font-size="11.60" font-weight="bold" text-anchor="end" fill="#000" stroke="#000" stroke-width="0.28">30</text>
<text id="t71" transform="translate(55.90 438.92)" font-size="11.60" font-weight="bold" text-anchor="end" fill="#000" stroke="#000" stroke-width="0.28">40</text>
<text id="t72" transform="translate(55.90 391.40)" font-size="11.60" font-weight="bold" text-anchor="end" fill="#000" stroke="#000" stroke-width="0.28">50</text>
<text id="t73" transform="translate(196.80 659.50)" font-size="14.07" font-weight="bold" text-anchor="middle" fill="#000" stroke="#000" stroke-width="0.28">E (V vs RHE)</text>
<text id="t74" transform="translate(27.40 494.50) rotate(-90)" font-size="13.76" font-weight="bold" text-anchor="middle" fill="#000" stroke="#000" stroke-width="0.28">PCE (%)</text>
<path d="M242.1 593.90H266.6" stroke="#D8781C" stroke-width="1.5" fill="none"/>
<circle cx="254.3" cy="593.90" r="5.6" fill="#fff"/>
<circle cx="254.30" cy="593.90" r="4.10" fill="url(#gO)"/>
<text id="t75" transform="translate(269.90 598.90)" font-size="13.90" font-weight="bold" text-anchor="start" fill="#000" stroke="#000" stroke-width="0.28">ZnIn<tspan font-size="7.99" dy="5.00">2</tspan><tspan dy="-5.00">S</tspan><tspan font-size="7.99" dy="5.00">4</tspan></text>
<path d="M242.1 611.20H266.6" stroke="#22A7E0" stroke-width="1.5" fill="none"/>
<circle cx="254.3" cy="611.20" r="5.6" fill="#fff"/>
<circle cx="254.30" cy="611.20" r="4.10" fill="url(#gB)"/>
<text id="t76" transform="translate(269.90 616.20)" font-size="13.89" font-weight="bold" text-anchor="start" fill="#000" stroke="#000" stroke-width="0.28">In<tspan font-size="7.98" dy="5.00">2</tspan><tspan dy="-5.00">S</tspan><tspan font-size="7.98" dy="5.00">3</tspan></text>
<text id="t77" transform="translate(370.60 370.80)" font-size="18.90" font-weight="normal" text-anchor="start" fill="#000" stroke="#000" stroke-width="0.45">e</text>
<clipPath id="ce"><rect x="443.40" y="366.40" width="260.60" height="260.00"/></clipPath>
<g clip-path="url(#ce)">
<ellipse cx="469.0" cy="504.8" rx="23" ry="96.6" fill="#E6F2C8" transform="rotate(1.1 469.0 504.8)"/>
<ellipse cx="590.4" cy="449.8" rx="121.5" ry="46.0" fill="#C6E7FB" transform="rotate(25.2 590.4 449.8)"/>
<ellipse cx="638.7" cy="406.7" rx="57.5" ry="11.2" fill="#F9E4CE" transform="rotate(22 638.7 406.7)"/>
</g>
<path d="M443.40 389.30H596.00V626.40M443.40 410.60H638.50V626.40M443.40 423.60H457.6M504.6 423.60H680.60V626.40" stroke="#EE1C25" stroke-width="1.65" stroke-dasharray="3.8 2.1" fill="none"/>
<path d="M596.00 384.00L597.32 387.78L601.33 387.87L598.14 390.30L599.29 394.13L596.00 391.85L592.71 394.13L593.86 390.30L590.67 387.87L594.68 387.78Z" fill="#EE1C25"/>
<path d="M638.50 405.30L639.82 409.08L643.83 409.17L640.64 411.60L641.79 415.43L638.50 413.15L635.21 415.43L636.36 411.60L633.17 409.17L637.18 409.08Z" fill="#EE1C25"/>
<path d="M680.60 418.30L681.92 422.08L685.93 422.17L682.74 424.60L683.89 428.43L680.60 426.15L677.31 428.43L678.46 424.60L675.27 422.17L679.28 422.08Z" fill="#EE1C25"/>
<path d="M502.20 382.20L506.80 386.80L502.20 391.40L497.60 386.80Z" fill="#3FAA6E"/>
<text id="t78" transform="translate(507.80 384.80)" font-size="10.76" font-weight="normal" text-anchor="start" fill="#000">ref.21</text>
<path d="M505.10 401.10L509.60 408.90L500.60 408.90Z" fill="#1CC5C5"/>
<text id="t79" transform="translate(515.00 407.20)" font-size="10.76" font-weight="normal" text-anchor="start" fill="#000">ref.32</text>
<rect x="455.9" y="415.1" width="6.6" height="6.6" fill="#000"/>
<text id="t80" transform="translate(446.50 407.70)" font-size="10.76" font-weight="normal" text-anchor="start" fill="#000">ref.36</text>
<path d="M464.80 431.10L461.34 429.10L461.34 425.10L464.80 423.10L468.26 425.10L468.26 429.10Z" fill="#7A4A4C"/>
<text id="t81" transform="translate(469.70 427.40)" font-size="10.76" font-weight="normal" text-anchor="start" fill="#000">ref.37</text>
<path d="M511.60 423.10L515.69 426.07L514.13 430.88L509.07 430.88L507.51 426.07Z" fill="#1F6FE0"/>
<text id="t82" transform="translate(503.80 442.00)" font-size="10.76" font-weight="normal" text-anchor="start" fill="#000">ref.20</text>
<path d="M480.50 439.60L485.00 447.40L476.00 447.40Z" fill="#1E5FD8"/>
<text id="t83" transform="translate(484.30 455.30)" font-size="10.76" font-weight="normal" text-anchor="start" fill="#000">ref.16</text>
<path d="M456.30 458.10L460.29 461.00L458.77 465.70L453.83 465.70L452.31 461.00Z" fill="#8A7F0A"/>
<text id="t84" transform="translate(445.80 455.30)" font-size="10.76" font-weight="normal" text-anchor="start" fill="#000">ref.14</text>
<path d="M466.60 466.50L459.10 470.83L459.10 462.17Z" fill="#1CC8C8"/>
<text id="t85" transform="translate(445.80 480.80)" font-size="10.76" font-weight="normal" text-anchor="start" fill="#000">ref.38</text>
<circle cx="483.9" cy="467.2" r="3.8" fill="#F0414B"/>
<text id="t86" transform="translate(483.60 480.80)" font-size="10.76" font-weight="normal" text-anchor="start" fill="#000">ref.39</text>
<circle cx="540.3" cy="471.0" r="3.8" fill="#D39A12"/>
<text id="t87" transform="translate(547.80 476.90)" font-size="10.76" font-weight="normal" text-anchor="start" fill="#000">ref.33</text>
<path d="M564.30 455.90L560.84 453.90L560.84 449.90L564.30 447.90L567.76 449.90L567.76 453.90Z" fill="#FF3FA3"/>
<text id="t88" transform="translate(550.10 445.90)" font-size="10.76" font-weight="normal" text-anchor="start" fill="#000">ref.34</text>
<path d="M672.90 458.40L668.57 450.90L677.23 450.90Z" fill="#7A4A4C"/>
<text id="t89" transform="translate(655.30 467.40)" font-size="10.45" font-weight="normal" text-anchor="start" fill="#000">ref.4</text>
<rect x="628.4" y="494.6" width="6.4" height="6.4" fill="#B57FE2"/>
<text id="t90" transform="translate(640.90 502.80)" font-size="10.76" font-weight="normal" text-anchor="start" fill="#000">ref.19</text>
<path d="M463.30 510.30L459.23 503.25L467.37 503.25Z" fill="#2FA861"/>
<text id="t91" transform="translate(469.90 509.70)" font-size="10.76" font-weight="normal" text-anchor="start" fill="#000">ref.40</text>
<circle cx="463.9" cy="540.7" r="3.3" fill="url(#gS)" stroke="#4a74c8" stroke-width="0.5"/>
<text id="t92" transform="translate(469.90 543.40)" font-size="10.76" font-weight="normal" text-anchor="start" fill="#000">ref.41</text>
<path d="M462.40 571.00L458.94 569.00L458.94 565.00L462.40 563.00L465.86 565.00L465.86 569.00Z" fill="#fff" stroke="#F26A1E" stroke-width="0.9" stroke-linejoin="round"/>
<path d="M458.94 567.3L458.94 565.00L462.4 563.00L465.86 565.00L465.86 567.3Z" fill="#F26A1E"/>
<text id="t93" transform="translate(469.30 570.00)" font-size="10.76" font-weight="normal" text-anchor="start" fill="#000">ref.42</text>
<path d="M474.30 588.10L478.90 592.70L474.30 597.30L469.70 592.70Z" fill="#B064E0"/>
<text id="t94" transform="translate(481.80 596.00)" font-size="10.76" font-weight="normal" text-anchor="start" fill="#000">ref.43</text>
<text id="t95" transform="translate(581.40 380.30)" font-size="11.76" font-weight="bold" text-anchor="start" fill="#F0892B" stroke="#F0892B" stroke-width="0.28">This work in flow cell</text>
<text id="t96" transform="translate(627.20 536.30)" font-size="11.73" font-weight="bold" text-anchor="start" fill="#2E6CB4" stroke="#2E6CB4" stroke-width="0.28">Flow cell</text>
<text id="t97" transform="translate(454.00 618.00)" font-size="11.52" font-weight="bold" text-anchor="start" fill="#2EA022" stroke="#2EA022" stroke-width="0.28">H-type cell</text>
<rect x="443.40" y="366.40" width="260.60" height="260.00" fill="none" stroke="#000" stroke-width="2.00"/>
<path d="M455.80 626.40v5.0M502.95 626.40v5.0M550.10 626.40v5.0M597.25 626.40v5.0M644.40 626.40v5.0M691.55 626.40v5.0M479.38 626.40v2.6M526.52 626.40v2.6M573.67 626.40v2.6M620.83 626.40v2.6M667.98 626.40v2.6" stroke="#000" stroke-width="2.00" fill="none"/>
<text id="t98" transform="translate(455.80 644.60)" font-size="11.60" font-weight="bold" text-anchor="middle" fill="#000" stroke="#000" stroke-width="0.28">0</text>
<text id="t99" transform="translate(502.95 644.60)" font-size="11.60" font-weight="bold" text-anchor="middle" fill="#000" stroke="#000" stroke-width="0.28">100</text>
<text id="t100" transform="translate(550.10 644.60)" font-size="11.60" font-weight="bold" text-anchor="middle" fill="#000" stroke="#000" stroke-width="0.28">200</text>
<text id="t101" transform="translate(597.25 644.60)" font-size="11.60" font-weight="bold" text-anchor="middle" fill="#000" stroke="#000" stroke-width="0.28">300</text>
<text id="t102" transform="translate(644.40 644.60)" font-size="11.60" font-weight="bold" text-anchor="middle" fill="#000" stroke="#000" stroke-width="0.28">400</text>
<text id="t103" transform="translate(691.55 644.60)" font-size="11.60" font-weight="bold" text-anchor="middle" fill="#000" stroke="#000" stroke-width="0.28">500</text>
<path d="M443.40 601.75h-5.0M443.40 558.00h-5.0M443.40 514.25h-5.0M443.40 470.50h-5.0M443.40 426.75h-5.0M443.40 383.00h-5.0M443.40 623.62h-2.6M443.40 579.88h-2.6M443.40 536.12h-2.6M443.40 492.38h-2.6M443.40 448.62h-2.6M443.40 404.88h-2.6" stroke="#000" stroke-width="2.00" fill="none"/>
<text id="t104" transform="translate(435.80 605.35)" font-size="11.60" font-weight="bold" text-anchor="end" fill="#000" stroke="#000" stroke-width="0.28">75</text>
<text id="t105" transform="translate(435.80 561.60)" font-size="11.60" font-weight="bold" text-anchor="end" fill="#000" stroke="#000" stroke-width="0.28">80</text>
<text id="t106" transform="translate(435.80 517.85)" font-size="11.60" font-weight="bold" text-anchor="end" fill="#000" stroke="#000" stroke-width="0.28">85</text>
<text id="t107" transform="translate(435.80 474.10)" font-size="11.60" font-weight="bold" text-anchor="end" fill="#000" stroke="#000" stroke-width="0.28">90</text>
<text id="t108" transform="translate(435.80 430.35)" font-size="11.60" font-weight="bold" text-anchor="end" fill="#000" stroke="#000" stroke-width="0.28">95</text>
<text id="t109" transform="translate(435.80 386.60)" font-size="11.60" font-weight="bold" text-anchor="end" fill="#000" stroke="#000" stroke-width="0.28">100</text>
<text id="t110" transform="translate(576.00 660.40)" font-size="14.22" font-weight="bold" text-anchor="middle" fill="#000" stroke="#000" stroke-width="0.28">Formate current density (mA cm<tspan font-size="8.18" dy="-5.26">-2</tspan><tspan dy="5.26">)</tspan></text>
<text id="t111" transform="translate(404.80 494.00) rotate(-90)" font-size="14.23" font-weight="bold" text-anchor="middle" fill="#000" stroke="#000" stroke-width="0.28">Formate Faradaic efficiency (%)</text>
<text id="t112" transform="translate(738.40 370.10)" font-size="18.90" font-weight="bold" text-anchor="start" fill="#000" stroke="#000" stroke-width="0.28">f</text>
<rect x="806.70" y="366.40" width="62.30" height="260.80" fill="#EFF1F0"/>
<rect x="869.0" y="366.40" width="197.40" height="260.80" fill="#FBFBE6"/>
<linearGradient id="b0" x1="0" y1="0" x2="0" y2="1"><stop offset="0" stop-color="#000000"/><stop offset="0.1" stop-color="#000000"/><stop offset="1" stop-color="#C8C8C8"/></linearGradient>
<rect x="815.40" y="608.30" width="14.2" height="18.90" fill="url(#b0)" stroke="#555" stroke-width="0.7"/>
<text id="t113" transform="translate(825.70 606.10) rotate(-90)" font-size="10.60" font-weight="bold" text-anchor="start" fill="#000000" stroke="#000000" stroke-width="0.28">In-In<tspan font-size="6.09" dy="3.82">2</tspan><tspan dy="-3.82">S</tspan><tspan font-size="6.09" dy="3.82">3</tspan></text>
<linearGradient id="b1" x1="0" y1="0" x2="0" y2="1"><stop offset="0" stop-color="#F03C46"/><stop offset="0.1" stop-color="#F03C46"/><stop offset="1" stop-color="#FFA9AD"/></linearGradient>
<rect x="834.57" y="601.50" width="14.2" height="25.70" fill="url(#b1)" stroke="#555" stroke-width="0.7"/>
<text id="t114" transform="translate(844.87 599.30) rotate(-90)" font-size="10.60" font-weight="bold" text-anchor="start" fill="#F04650" stroke="#F04650" stroke-width="0.28">S-In<tspan font-size="6.09" dy="3.82">2</tspan><tspan dy="-3.82">O</tspan><tspan font-size="6.09" dy="3.82">3</tspan></text>
<linearGradient id="b2" x1="0" y1="0" x2="0" y2="1"><stop offset="0" stop-color="#1E4E50"/><stop offset="0.1" stop-color="#1E4E50"/><stop offset="1" stop-color="#A9E6E4"/></linearGradient>
<rect x="853.75" y="598.40" width="14.2" height="28.80" fill="url(#b2)" stroke="#555" stroke-width="0.7"/>
<text id="t115" transform="translate(864.05 596.20) rotate(-90)" font-size="10.60" font-weight="bold" text-anchor="start" fill="#1F5052" stroke="#1F5052" stroke-width="0.28">Hp-In</text>
<linearGradient id="b3" x1="0" y1="0" x2="0" y2="1"><stop offset="0" stop-color="#0A8A1A"/><stop offset="0.1" stop-color="#0A8A1A"/><stop offset="1" stop-color="#A8F0A0"/></linearGradient>
<rect x="872.92" y="592.41" width="14.2" height="34.79" fill="url(#b3)" stroke="#555" stroke-width="0.7"/>
<text id="t116" transform="translate(883.22 590.21) rotate(-90)" font-size="10.60" font-weight="bold" text-anchor="start" fill="#129A1E" stroke="#129A1E" stroke-width="0.28">N-Sn(S)</text>
<linearGradient id="b4" x1="0" y1="0" x2="0" y2="1"><stop offset="0" stop-color="#7A10F0"/><stop offset="0.1" stop-color="#7A10F0"/><stop offset="1" stop-color="#D6A8FA"/></linearGradient>
<rect x="892.10" y="575.71" width="14.2" height="51.49" fill="url(#b4)" stroke="#555" stroke-width="0.7"/>
<text id="t117" transform="translate(902.40 573.51) rotate(-90)" font-size="10.60" font-weight="bold" text-anchor="start" fill="#8A1EF0" stroke="#8A1EF0" stroke-width="0.28">SnO<tspan font-size="6.09" dy="3.82">2</tspan><tspan dy="-3.82"> NP</tspan></text>
<linearGradient id="b5" x1="0" y1="0" x2="0" y2="1"><stop offset="0" stop-color="#FF3C96"/><stop offset="0.1" stop-color="#FF3C96"/><stop offset="1" stop-color="#FF9CC8"/></linearGradient>
<rect x="911.27" y="579.41" width="14.2" height="47.79" fill="url(#b5)" stroke="#555" stroke-width="0.7"/>
<text id="t118" transform="translate(921.57 577.21) rotate(-90)" font-size="10.60" font-weight="bold" text-anchor="start" fill="#FF4FA0" stroke="#FF4FA0" stroke-width="0.28">Bi-ene</text>
<linearGradient id="b6" x1="0" y1="0" x2="0" y2="1"><stop offset="0" stop-color="#8A1018"/><stop offset="0.1" stop-color="#8A1018"/><stop offset="1" stop-color="#F0A8A8"/></linearGradient>
<rect x="930.45" y="576.59" width="14.2" height="50.61" fill="url(#b6)" stroke="#555" stroke-width="0.7"/>
<text id="t119" transform="translate(940.75 574.39) rotate(-90)" font-size="10.60" font-weight="bold" text-anchor="start" fill="#8A1018" stroke="#8A1018" stroke-width="0.28">S-BiVO<tspan font-size="6.09" dy="3.82">4</tspan></text>
<linearGradient id="b7" x1="0" y1="0" x2="0" y2="1"><stop offset="0" stop-color="#1460D2"/><stop offset="0.1" stop-color="#1460D2"/><stop offset="1" stop-color="#B4D2F5"/></linearGradient>
<rect x="949.62" y="569.69" width="14.2" height="57.51" fill="url(#b7)" stroke="#555" stroke-width="0.7"/>
<text id="t120" transform="translate(959.92 567.49) rotate(-90)" font-size="10.60" font-weight="bold" text-anchor="start" fill="#1A64D6" stroke="#1A64D6" stroke-width="0.28">Bi<tspan font-size="6.09" dy="3.82">2</tspan><tspan dy="-3.82">O</tspan><tspan font-size="6.09" dy="3.82">3</tspan><tspan dy="-3.82"> NT</tspan></text>
<linearGradient id="b8" x1="0" y1="0" x2="0" y2="1"><stop offset="0" stop-color="#F07814"/><stop offset="0.1" stop-color="#F07814"/><stop offset="1" stop-color="#F8D2A8"/></linearGradient>
<rect x="968.80" y="540.20" width="14.2" height="87.00" fill="url(#b8)" stroke="#555" stroke-width="0.7"/>
<text id="t121" transform="translate(979.10 538.00) rotate(-90)" font-size="10.60" font-weight="bold" text-anchor="start" fill="#F07F1E" stroke="#F07F1E" stroke-width="0.28">BiOBr</text>
<linearGradient id="b9" x1="0" y1="0" x2="0" y2="1"><stop offset="0" stop-color="#A00A5A"/><stop offset="0.1" stop-color="#A00A5A"/><stop offset="1" stop-color="#FF9CD2"/></linearGradient>
<rect x="987.98" y="515.79" width="14.2" height="111.41" fill="url(#b9)" stroke="#555" stroke-width="0.7"/>
<text id="t122" transform="translate(998.27 513.59) rotate(-90)" font-size="10.60" font-weight="bold" text-anchor="start" fill="#AA0F64" stroke="#AA0F64" stroke-width="0.28">Bi@Sn</text>
<linearGradient id="b10" x1="0" y1="0" x2="0" y2="1"><stop offset="0" stop-color="#000082"/><stop offset="0.1" stop-color="#000082"/><stop offset="1" stop-color="#9A9AFF"/></linearGradient>
<rect x="1007.15" y="446.21" width="14.2" height="180.99" fill="url(#b10)" stroke="#555" stroke-width="0.7"/>
<text id="t123" transform="translate(1017.45 444.01) rotate(-90)" font-size="10.60" font-weight="bold" text-anchor="start" fill="#0A0A8C" stroke="#0A0A8C" stroke-width="0.28">Bi NSs</text>
<linearGradient id="b11" x1="0" y1="0" x2="0" y2="1"><stop offset="0" stop-color="#9AAA28"/><stop offset="0.1" stop-color="#9AAA28"/><stop offset="1" stop-color="#EAF0B4"/></linearGradient>
<rect x="1026.33" y="404.01" width="14.2" height="223.19" fill="url(#b11)" stroke="#555" stroke-width="0.7"/>
<linearGradient id="b12" x1="0" y1="0" x2="0" y2="1"><stop offset="0" stop-color="#FF0000"/><stop offset="0.1" stop-color="#FF0000"/><stop offset="1" stop-color="#FF9A9A"/></linearGradient>
<rect x="1045.50" y="395.68" width="14.2" height="231.52" fill="url(#b12)" stroke="#555" stroke-width="0.7"/>
<text id="t124" transform="translate(978.80 401.90)" font-size="10.54" font-weight="bold" text-anchor="start" fill="#9AAA28" stroke="#9AAA28" stroke-width="0.28">nBuLi-Bi</text>
<text id="t125" transform="translate(1014.20 384.70)" font-size="10.55" font-weight="bold" text-anchor="start" fill="#E0141E" stroke="#E0141E" stroke-width="0.28">This work</text>
<rect x="806.70" y="366.40" width="259.70" height="260.80" fill="none" stroke="#000" stroke-width="2.00"/>
<path d="M806.70 627.00h-5.0M806.70 574.90h-5.0M806.70 522.80h-5.0M806.70 470.70h-5.0M806.70 418.60h-5.0M806.70 366.50h-5.0M806.70 600.95h-2.6M806.70 548.85h-2.6M806.70 496.75h-2.6M806.70 444.65h-2.6M806.70 392.55h-2.6" stroke="#000" stroke-width="2.00" fill="none"/>
<text id="t126" transform="translate(799.10 630.60)" font-size="11.60" font-weight="bold" text-anchor="end" fill="#000" stroke="#000" stroke-width="0.28">0</text>
<text id="t127" transform="translate(799.10 578.50)" font-size="11.60" font-weight="bold" text-anchor="end" fill="#000" stroke="#000" stroke-width="0.28">2000</text>
<text id="t128" transform="translate(799.10 526.40)" font-size="11.60" font-weight="bold" text-anchor="end" fill="#000" stroke="#000" stroke-width="0.28">4000</text>
<text id="t129" transform="translate(799.10 474.30)" font-size="11.60" font-weight="bold" text-anchor="end" fill="#000" stroke="#000" stroke-width="0.28">6000</text>
<text id="t130" transform="translate(799.10 422.20)" font-size="11.60" font-weight="bold" text-anchor="end" fill="#000" stroke="#000" stroke-width="0.28">8000</text>
<text id="t131" transform="translate(799.10 370.10)" font-size="11.60" font-weight="bold" text-anchor="end" fill="#000" stroke="#000" stroke-width="0.28">10000</text>
<text id="t132" transform="translate(808.50 644.00)" font-size="14.32" font-weight="bold" text-anchor="start" fill="#000" stroke="#000" stroke-width="0.28">H-type cell</text>
<text id="t133" transform="translate(946.10 646.20)" font-size="14.04" font-weight="bold" text-anchor="start" fill="#000" stroke="#000" stroke-width="0.28">Flow cell</text>
<text id="t134" transform="translate(762.00 493.00) rotate(-90)" font-size="13.52" font-weight="bold" text-anchor="middle" fill="#000" stroke="#000" stroke-width="0.28">Formate production rate (µmol cm<tspan font-size="7.78" dy="-5.00">-2</tspan><tspan dy="5.00"> h</tspan><tspan font-size="7.78" dy="-5.00">-1</tspan><tspan dy="5.00">)</tspan></text>
</svg>
</body></html>
